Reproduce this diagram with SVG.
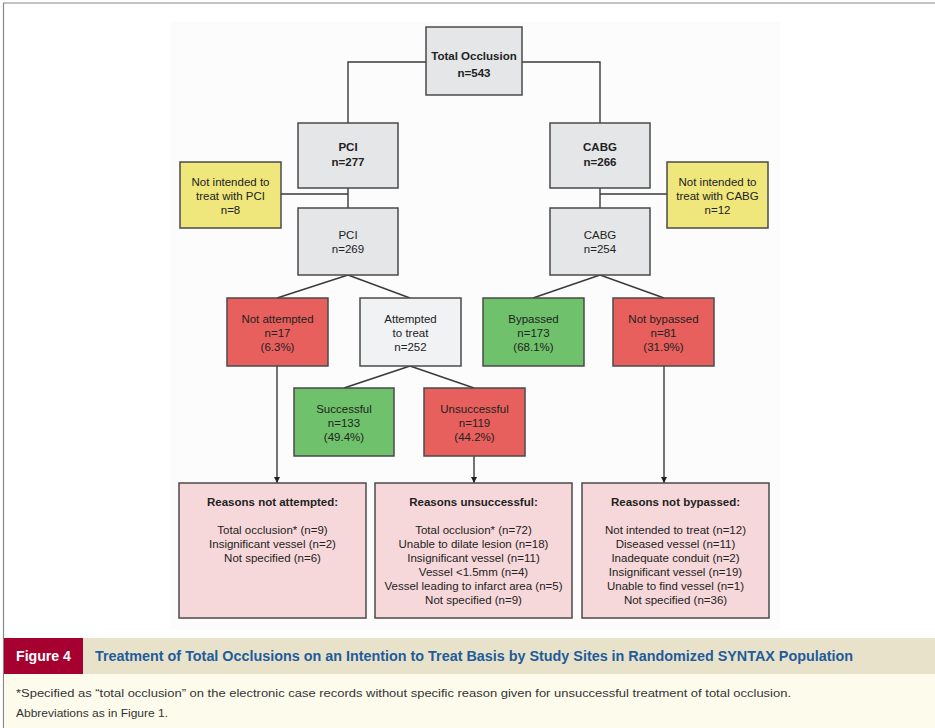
<svg xmlns="http://www.w3.org/2000/svg" width="935" height="728" viewBox="0 0 935 728">
<style>
.box{stroke:#4a4a4a;stroke-width:1.5}
.gray{fill:#e5e6e8}
.light{fill:#f1f2f4}
.yel{fill:#efe77c}
.red{fill:#e8605d}
.grn{fill:#6fc26b}
.pink{fill:#f7d8da}
.t{font-family:"Liberation Sans",Arial,sans-serif;font-size:11.5px;fill:#222;text-anchor:middle}
.b{font-weight:bold}
.con{fill:none;stroke:#3a3a3a;stroke-width:1.4}
</style>
<defs>
<marker id="arr" viewBox="0 0 10 10" refX="10" refY="5" markerWidth="6" markerHeight="6" markerUnits="userSpaceOnUse" orient="auto">
<path d="M0,0 L10,5 L0,10 z" fill="#222"/>
</marker>
</defs>
<rect x="0" y="0" width="935" height="728" fill="#ffffff"/>
<rect x="170" y="22" width="610" height="608" fill="#fcfcfc"/>
<line x1="3" y1="3" x2="935" y2="3" stroke="#888" stroke-width="1.2"/>
<line x1="3.5" y1="3" x2="3.5" y2="728" stroke="#888" stroke-width="1.2"/>

<g id="connectors">
<path class="con" d="M426,62 H348 V123"/>
<path class="con" d="M522,62 H600 V123"/>
<path class="con" d="M348,188 V208"/>
<path class="con" d="M281,194 H348"/>
<path class="con" d="M600,188 V208"/>
<path class="con" d="M667,194 H600"/>
<path class="con" d="M348,275 L277,298"/>
<path class="con" d="M348,275 L410,298"/>
<path class="con" d="M600,275 L533,298"/>
<path class="con" d="M600,275 L664,298"/>
<path class="con" d="M410,366 L344,388"/>
<path class="con" d="M410,366 L474,388"/>
<path class="con" d="M277,366 V483" marker-end="url(#arr)"/>
<path class="con" d="M474,456 V483" marker-end="url(#arr)"/>
<path class="con" d="M664,366 V483" marker-end="url(#arr)"/>
</g>

<g id="total">
<rect class="box gray" x="426" y="27" width="96" height="68"/>
<text class="t b" x="474" y="60">Total Occlusion</text>
<text class="t b" x="474" y="77">n=543</text>
</g>
<g id="pci277">
<rect class="box gray" x="298" y="123" width="100" height="65"/>
<text class="t b" x="348" y="151">PCI</text>
<text class="t b" x="348" y="166">n=277</text>
</g>
<g id="cabg266">
<rect class="box gray" x="550" y="123" width="100" height="65"/>
<text class="t b" x="600" y="151">CABG</text>
<text class="t b" x="600" y="166">n=266</text>
</g>
<g id="notpci">
<rect class="box yel" x="180" y="162" width="101" height="66"/>
<text class="t" x="230.5" y="186">Not intended to</text>
<text class="t" x="230.5" y="200">treat with PCI</text>
<text class="t" x="230.5" y="214">n=8</text>
</g>
<g id="notcabg">
<rect class="box yel" x="667" y="162" width="101" height="66"/>
<text class="t" x="717.5" y="186">Not intended to</text>
<text class="t" x="717.5" y="200">treat with CABG</text>
<text class="t" x="717.5" y="214">n=12</text>
</g>
<g id="pci269">
<rect class="box gray" x="298" y="208" width="100" height="67"/>
<text class="t" x="348" y="239">PCI</text>
<text class="t" x="348" y="253">n=269</text>
</g>
<g id="cabg254">
<rect class="box gray" x="550" y="208" width="100" height="67"/>
<text class="t" x="600" y="239">CABG</text>
<text class="t" x="600" y="253">n=254</text>
</g>
<g id="notattempted">
<rect class="box red" x="227" y="298" width="101" height="68"/>
<text class="t" x="277.5" y="323">Not attempted</text>
<text class="t" x="277.5" y="337">n=17</text>
<text class="t" x="277.5" y="351">(6.3%)</text>
</g>
<g id="attempted">
<rect class="box light" x="360" y="298" width="101" height="68"/>
<text class="t" x="410.5" y="323">Attempted</text>
<text class="t" x="410.5" y="337">to treat</text>
<text class="t" x="410.5" y="351">n=252</text>
</g>
<g id="bypassed">
<rect class="box grn" x="483" y="298" width="101" height="68"/>
<text class="t" x="533.5" y="323">Bypassed</text>
<text class="t" x="533.5" y="337">n=173</text>
<text class="t" x="533.5" y="351">(68.1%)</text>
</g>
<g id="notbypassed">
<rect class="box red" x="613" y="298" width="101" height="68"/>
<text class="t" x="663.5" y="323">Not bypassed</text>
<text class="t" x="663.5" y="337">n=81</text>
<text class="t" x="663.5" y="351">(31.9%)</text>
</g>
<g id="successful">
<rect class="box grn" x="294" y="388" width="100" height="68"/>
<text class="t" x="344" y="413">Successful</text>
<text class="t" x="344" y="427">n=133</text>
<text class="t" x="344" y="441">(49.4%)</text>
</g>
<g id="unsuccessful">
<rect class="box red" x="424" y="388" width="101" height="68"/>
<text class="t" x="474.5" y="413">Unsuccessful</text>
<text class="t" x="474.5" y="427">n=119</text>
<text class="t" x="474.5" y="441">(44.2%)</text>
</g>
<g id="reasons-notattempted">
<rect class="box pink" x="179" y="483" width="187" height="135"/>
<text class="t b" x="272.5" y="506">Reasons not attempted:</text>
<text class="t" x="272.5" y="534">Total occlusion* (n=9)</text>
<text class="t" x="272.5" y="548">Insignificant vessel (n=2)</text>
<text class="t" x="272.5" y="562">Not specified (n=6)</text>
</g>
<g id="reasons-unsuccessful">
<rect class="box pink" x="375" y="483" width="197" height="135"/>
<text class="t b" x="473.5" y="506">Reasons unsuccessful:</text>
<text class="t" x="473.5" y="534">Total occlusion* (n=72)</text>
<text class="t" x="473.5" y="548">Unable to dilate lesion (n=18)</text>
<text class="t" x="473.5" y="562">Insignificant vessel (n=11)</text>
<text class="t" x="473.5" y="576">Vessel &lt;1.5mm (n=4)</text>
<text class="t" x="473.5" y="590">Vessel leading to infarct area (n=5)</text>
<text class="t" x="473.5" y="604">Not specified (n=9)</text>
</g>
<g id="reasons-notbypassed">
<rect class="box pink" x="582" y="483" width="187" height="135"/>
<text class="t b" x="675.5" y="506">Reasons not bypassed:</text>
<text class="t" x="675.5" y="534">Not intended to treat (n=12)</text>
<text class="t" x="675.5" y="548">Diseased vessel (n=11)</text>
<text class="t" x="675.5" y="562">Inadequate conduit (n=2)</text>
<text class="t" x="675.5" y="576">Insignificant vessel (n=19)</text>
<text class="t" x="675.5" y="590">Unable to find vessel (n=1)</text>
<text class="t" x="675.5" y="604">Not specified (n=36)</text>
</g>

<g id="caption">
<rect x="4" y="638" width="931" height="36" fill="#e9e2cb"/>
<rect x="4" y="638" width="79" height="36" fill="#a60031"/>
<text x="16" y="661" font-family="Liberation Sans,Arial,sans-serif" font-size="14px" font-weight="bold" fill="#ffffff" textLength="55" lengthAdjust="spacingAndGlyphs">Figure 4</text>
<text x="95" y="661" font-family="Liberation Sans,Arial,sans-serif" font-size="14px" font-weight="bold" fill="#1e5c9a" textLength="758" lengthAdjust="spacingAndGlyphs">Treatment of Total Occlusions on an Intention to Treat Basis by Study Sites in Randomized SYNTAX Population</text>
<rect x="4" y="674" width="931" height="54" fill="#fdfbec"/>
<text x="16" y="697" font-family="Liberation Sans,Arial,sans-serif" font-size="11.5px" fill="#333" textLength="775" lengthAdjust="spacingAndGlyphs">*Specified as “total occlusion” on the electronic case records without specific reason given for unsuccessful treatment of total occlusion.</text>
<text x="16" y="717" font-family="Liberation Sans,Arial,sans-serif" font-size="11.5px" fill="#333" textLength="152" lengthAdjust="spacingAndGlyphs">Abbreviations as in Figure 1.</text>
</g>
</svg>
